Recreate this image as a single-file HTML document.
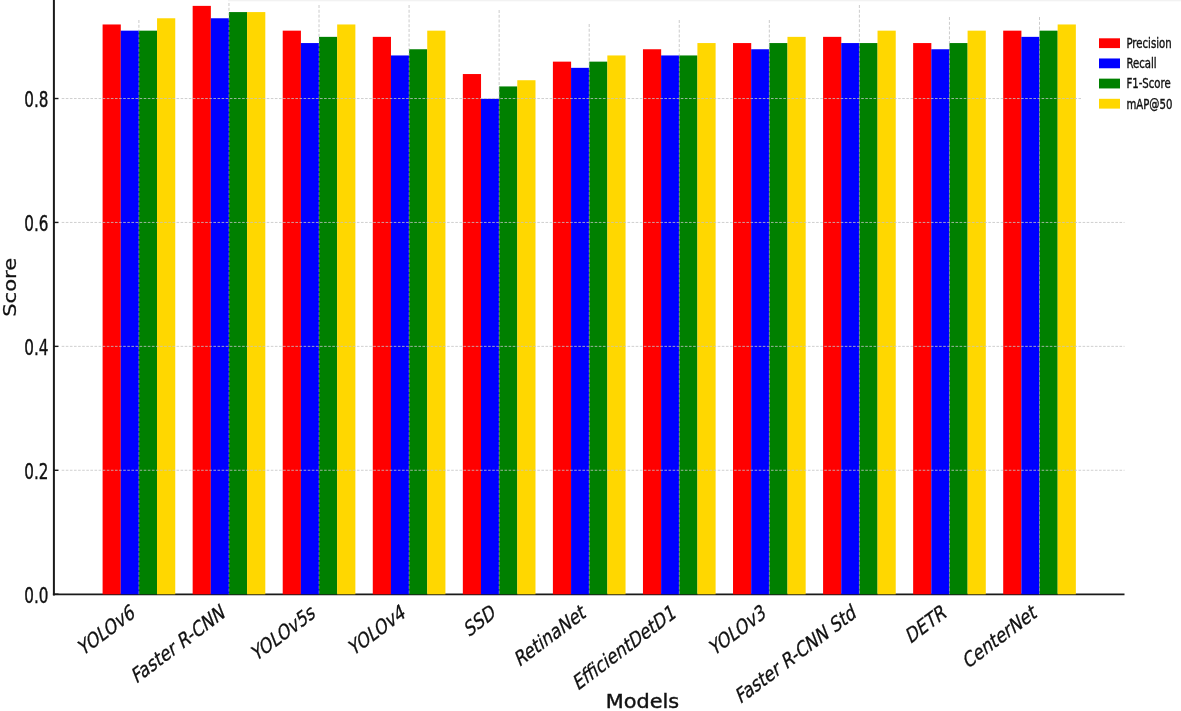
<!DOCTYPE html>
<html lang="en"><head><meta charset="utf-8"><title>Model comparison chart</title>
<style>html,body{margin:0;padding:0;background:#fff}body{width:1181px;height:711px;overflow:hidden}svg{display:block}text{font-family:"DejaVu Sans","Liberation Sans",sans-serif;fill:#111}.it{font-style:italic}.lb{font-family:"DejaVu Sans","Liberation Sans",sans-serif;fill:#111}</style></head><body>
<svg width="1181" height="711" viewBox="0 0 1181 711">
<rect width="1181" height="711" fill="#fff"/>
<line x1="52.9" y1="594.30" x2="1124.5" y2="594.30" stroke="#1a1a1a" stroke-width="1.8"/>
<g>
<rect x="102.60" y="24.47" width="18.20" height="569.83" fill="#ff0000"/>
<rect x="120.75" y="30.66" width="18.20" height="563.64" fill="#0000ff"/>
<rect x="138.90" y="30.66" width="18.20" height="563.64" fill="#008000"/>
<rect x="157.05" y="18.27" width="18.20" height="576.03" fill="#ffd700"/>
<rect x="192.66" y="5.88" width="18.20" height="588.42" fill="#ff0000"/>
<rect x="210.81" y="18.27" width="18.20" height="576.03" fill="#0000ff"/>
<rect x="228.96" y="12.08" width="18.20" height="582.22" fill="#008000"/>
<rect x="247.11" y="12.08" width="18.20" height="582.22" fill="#ffd700"/>
<rect x="282.72" y="30.66" width="18.20" height="563.64" fill="#ff0000"/>
<rect x="300.87" y="43.06" width="18.20" height="551.24" fill="#0000ff"/>
<rect x="319.02" y="36.86" width="18.20" height="557.44" fill="#008000"/>
<rect x="337.17" y="24.47" width="18.20" height="569.83" fill="#ffd700"/>
<rect x="372.78" y="36.86" width="18.20" height="557.44" fill="#ff0000"/>
<rect x="390.93" y="55.45" width="18.20" height="538.85" fill="#0000ff"/>
<rect x="409.08" y="49.25" width="18.20" height="545.05" fill="#008000"/>
<rect x="427.23" y="30.66" width="18.20" height="563.64" fill="#ffd700"/>
<rect x="462.84" y="74.04" width="18.20" height="520.26" fill="#ff0000"/>
<rect x="480.99" y="98.82" width="18.20" height="495.48" fill="#0000ff"/>
<rect x="499.14" y="86.43" width="18.20" height="507.87" fill="#008000"/>
<rect x="517.29" y="80.23" width="18.20" height="514.07" fill="#ffd700"/>
<rect x="552.90" y="61.64" width="18.20" height="532.66" fill="#ff0000"/>
<rect x="571.05" y="67.84" width="18.20" height="526.46" fill="#0000ff"/>
<rect x="589.20" y="61.64" width="18.20" height="532.66" fill="#008000"/>
<rect x="607.35" y="55.45" width="18.20" height="538.85" fill="#ffd700"/>
<rect x="642.96" y="49.25" width="18.20" height="545.05" fill="#ff0000"/>
<rect x="661.11" y="55.45" width="18.20" height="538.85" fill="#0000ff"/>
<rect x="679.26" y="55.45" width="18.20" height="538.85" fill="#008000"/>
<rect x="697.41" y="43.06" width="18.20" height="551.24" fill="#ffd700"/>
<rect x="733.02" y="43.06" width="18.20" height="551.24" fill="#ff0000"/>
<rect x="751.17" y="49.25" width="18.20" height="545.05" fill="#0000ff"/>
<rect x="769.32" y="43.06" width="18.20" height="551.24" fill="#008000"/>
<rect x="787.47" y="36.86" width="18.20" height="557.44" fill="#ffd700"/>
<rect x="823.08" y="36.86" width="18.20" height="557.44" fill="#ff0000"/>
<rect x="841.23" y="43.06" width="18.20" height="551.24" fill="#0000ff"/>
<rect x="859.38" y="43.06" width="18.20" height="551.24" fill="#008000"/>
<rect x="877.53" y="30.66" width="18.20" height="563.64" fill="#ffd700"/>
<rect x="913.14" y="43.06" width="18.20" height="551.24" fill="#ff0000"/>
<rect x="931.29" y="49.25" width="18.20" height="545.05" fill="#0000ff"/>
<rect x="949.44" y="43.06" width="18.20" height="551.24" fill="#008000"/>
<rect x="967.59" y="30.66" width="18.20" height="563.64" fill="#ffd700"/>
<rect x="1003.20" y="30.66" width="18.20" height="563.64" fill="#ff0000"/>
<rect x="1021.35" y="36.86" width="18.20" height="557.44" fill="#0000ff"/>
<rect x="1039.50" y="30.66" width="18.20" height="563.64" fill="#008000"/>
<rect x="1057.65" y="24.47" width="18.20" height="569.83" fill="#ffd700"/>
</g>
<g stroke="#c4c4c4" stroke-width="1" stroke-dasharray="2.6,1.5" opacity="0.8" fill="none">
<line x1="61.7" y1="470.28" x2="1124.5" y2="470.28"/>
<line x1="61.7" y1="346.36" x2="1124.5" y2="346.36"/>
<line x1="61.7" y1="222.44" x2="1124.5" y2="222.44"/>
<line x1="61.7" y1="98.52" x2="1124.5" y2="98.52"/>
<line x1="138.90" y1="20" x2="138.90" y2="594.2" stroke="#a8a8a8" stroke-dasharray="3,1.8" opacity="0.75"/>
<line x1="228.96" y1="3" x2="228.96" y2="594.2" stroke="#a8a8a8" stroke-dasharray="3,1.8" opacity="0.75"/>
<line x1="319.02" y1="5" x2="319.02" y2="594.2" stroke="#a8a8a8" stroke-dasharray="3,1.8" opacity="0.75"/>
<line x1="409.08" y1="5" x2="409.08" y2="594.2" stroke="#a8a8a8" stroke-dasharray="3,1.8" opacity="0.75"/>
<line x1="499.14" y1="10" x2="499.14" y2="594.2" stroke="#a8a8a8" stroke-dasharray="3,1.8" opacity="0.75"/>
<line x1="589.20" y1="24" x2="589.20" y2="594.2" stroke="#a8a8a8" stroke-dasharray="3,1.8" opacity="0.75"/>
<line x1="679.26" y1="20" x2="679.26" y2="594.2" stroke="#a8a8a8" stroke-dasharray="3,1.8" opacity="0.75"/>
<line x1="769.32" y1="20" x2="769.32" y2="594.2" stroke="#a8a8a8" stroke-dasharray="3,1.8" opacity="0.75"/>
<line x1="859.38" y1="5" x2="859.38" y2="594.2" stroke="#a8a8a8" stroke-dasharray="3,1.8" opacity="0.75"/>
<line x1="949.44" y1="17" x2="949.44" y2="594.2" stroke="#a8a8a8" stroke-dasharray="3,1.8" opacity="0.75"/>
<line x1="1039.50" y1="17" x2="1039.50" y2="594.2" stroke="#a8a8a8" stroke-dasharray="3,1.8" opacity="0.75"/>
</g>
<rect x="228" y="0" width="953" height="1.3" fill="#f2f2f2"/>
<rect x="1081" y="28" width="100" height="90" fill="#fff"/>
<g stroke="#1a1a1a" fill="none">
<line x1="53.9" y1="0" x2="53.9" y2="595.4" stroke-width="2"/>
<line x1="53.7" y1="594.20" x2="58.5" y2="594.20" stroke-width="1.4"/>
<line x1="53.7" y1="470.28" x2="58.5" y2="470.28" stroke-width="1.4"/>
<line x1="53.7" y1="346.36" x2="58.5" y2="346.36" stroke-width="1.4"/>
<line x1="53.7" y1="222.44" x2="58.5" y2="222.44" stroke-width="1.4"/>
<line x1="53.7" y1="98.52" x2="58.5" y2="98.52" stroke-width="1.4"/>
</g>
<text transform="translate(48.4,602.70) scale(1,1.45)" font-size="15.2" text-anchor="end" stroke="#111" stroke-width="0.3">0.0</text>
<text transform="translate(48.4,478.78) scale(1,1.45)" font-size="15.2" text-anchor="end" stroke="#111" stroke-width="0.3">0.2</text>
<text transform="translate(48.4,354.86) scale(1,1.45)" font-size="15.2" text-anchor="end" stroke="#111" stroke-width="0.3">0.4</text>
<text transform="translate(48.4,230.94) scale(1,1.45)" font-size="15.2" text-anchor="end" stroke="#111" stroke-width="0.3">0.6</text>
<text transform="translate(48.4,107.02) scale(1,1.45)" font-size="15.2" text-anchor="end" stroke="#111" stroke-width="0.3">0.8</text>
<text transform="translate(135.90,616.4) scale(1,1.38) rotate(-28.6)" font-size="15.6" text-anchor="end" stroke="#111" stroke-width="0.25">YOLOv6</text>
<text transform="translate(226.06,616.4) scale(1,1.38) rotate(-28.6)" font-size="15.6" text-anchor="end" stroke="#111" stroke-width="0.25">Faster R-CNN</text>
<text transform="translate(316.22,616.4) scale(1,1.38) rotate(-28.6)" font-size="15.6" text-anchor="end" stroke="#111" stroke-width="0.25">YOLOv5s</text>
<text transform="translate(406.38,616.4) scale(1,1.38) rotate(-28.6)" font-size="15.6" text-anchor="end" stroke="#111" stroke-width="0.25">YOLOv4</text>
<text transform="translate(496.54,616.4) scale(1,1.38) rotate(-28.6)" font-size="15.6" text-anchor="end" stroke="#111" stroke-width="0.25">SSD</text>
<text transform="translate(586.70,616.4) scale(1,1.38) rotate(-28.6)" font-size="15.6" text-anchor="end" stroke="#111" stroke-width="0.25">RetinaNet</text>
<text transform="translate(676.86,616.4) scale(1,1.38) rotate(-28.6)" font-size="15.6" text-anchor="end" stroke="#111" stroke-width="0.25">EfficientDetD1</text>
<text transform="translate(767.02,616.4) scale(1,1.38) rotate(-28.6)" font-size="15.6" text-anchor="end" stroke="#111" stroke-width="0.25">YOLOv3</text>
<text transform="translate(857.18,616.4) scale(1,1.38) rotate(-28.6)" font-size="15.6" text-anchor="end" stroke="#111" stroke-width="0.25">Faster R-CNN Std</text>
<text transform="translate(947.34,616.4) scale(1,1.38) rotate(-28.6)" font-size="15.6" text-anchor="end" stroke="#111" stroke-width="0.25">DETR</text>
<text transform="translate(1037.50,616.4) scale(1,1.38) rotate(-28.6)" font-size="15.6" text-anchor="end" stroke="#111" stroke-width="0.25">CenterNet</text>
<text class="lb" x="642.5" y="707.7" font-size="19" text-anchor="middle" textLength="73.5" lengthAdjust="spacingAndGlyphs" stroke="#111" stroke-width="0.4">Models</text>
<text class="lb" transform="translate(16.3,287.3) rotate(-90)" font-size="17.5" text-anchor="middle" textLength="59" lengthAdjust="spacingAndGlyphs" stroke="#111" stroke-width="0.25">Score</text>
<rect x="1099" y="38.30" width="21" height="9.8" fill="#ff0000"/>
<text transform="translate(1126.4,48.10) scale(1,1.370)" font-size="10.15" stroke="#111" stroke-width="0.3">Precision</text>
<rect x="1099" y="58.47" width="21" height="9.8" fill="#0000ff"/>
<text transform="translate(1126.4,68.27) scale(1,1.370)" font-size="10.15" stroke="#111" stroke-width="0.3">Recall</text>
<rect x="1099" y="78.64" width="21" height="9.8" fill="#008000"/>
<text transform="translate(1126.4,88.44) scale(1,1.370)" font-size="10.15" stroke="#111" stroke-width="0.3">F1-Score</text>
<rect x="1099" y="98.81" width="21" height="9.8" fill="#ffd700"/>
<text transform="translate(1126.4,108.61) scale(1,1.370)" font-size="10.15" stroke="#111" stroke-width="0.3">mAP@50</text>
</svg></body></html>
